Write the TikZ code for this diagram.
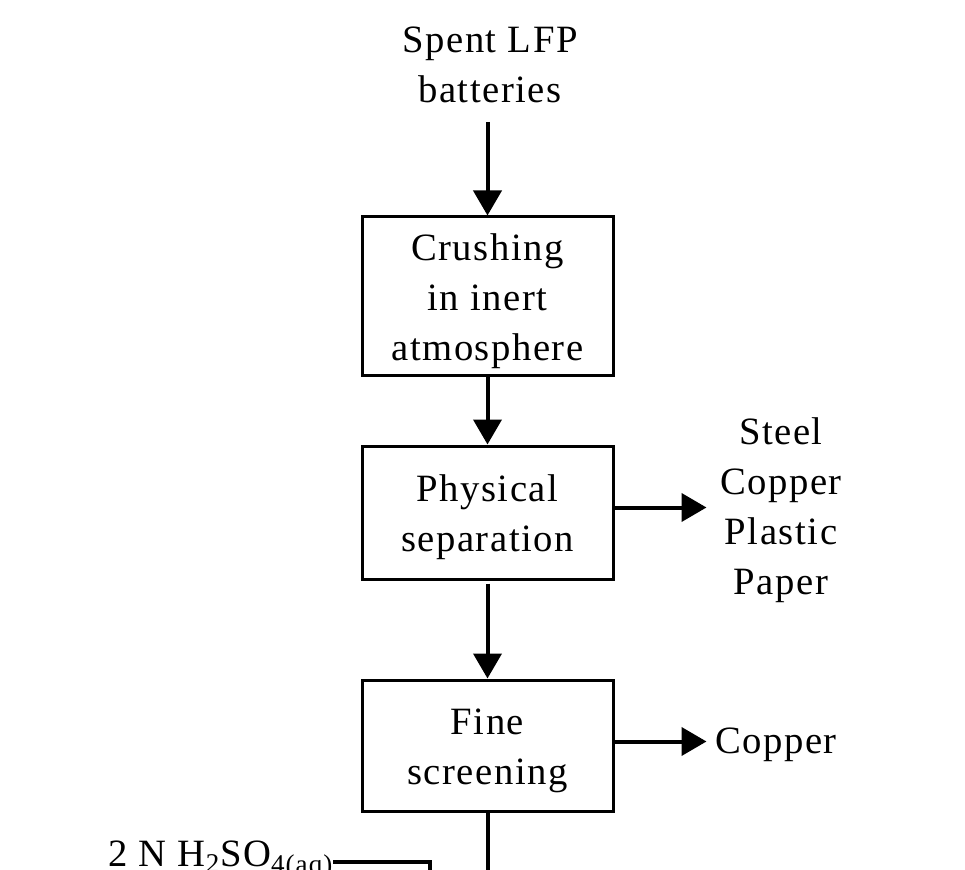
\documentclass[tikz,border=0pt]{standalone}
\usepackage{fontspec}
\setmainfont{Liberation Serif}[LetterSpace=4]
\usetikzlibrary{arrows.meta}
\newcommand{\topgap}{\rule{0pt}{27.5pt}}

\begin{document}
\begin{tikzpicture}[x=0.75pt, y=-0.75pt,
		every node/.style={font=\fontsize{29}{37.5}\selectfont, align=center},
		stepbox/.style={draw, line width=2.25pt, minimum width=188.25pt, inner sep=0pt},
		outtext/.style={inner sep=9pt},
		flow/.style={line width=3pt, -{Triangle[length=18.75pt, width=21pt]}},
		pipe/.style={line width=3pt}]
				\useasboundingbox (0,0) rectangle (965,870);

				% Feed
				\node[inner sep=0pt] (spent) at (490,65) {Spent LFP\\batteries};

				% Process steps
				\node[stepbox, minimum height=118.5pt] (crush) at (487.5,296) {\topgap Crushing\\in inert\\atmosphere};
				\node[stepbox, minimum height=99.75pt] (phys) at (487.5,512.5) {\topgap Physical\\separation};
				\node[stepbox, minimum height=98.25pt] (fine) at (487.5,745.5) {\topgap Fine\\screening};

				% Products
				\node[outtext] (metals) at (781,510) {Steel\\Copper\\Plastic\\Paper};
				\node[outtext, anchor=west] (cu) at (703,745) {Copper};

				% Acid feed
				\node[anchor=base west, inner sep=0pt] (acid) at (108,866) {2 N H\textsubscript{2}SO\textsubscript{4(aq)}};
				\coordinate (acidend) at (430,880);
				\coordinate (leachin) at (490,880);

				% Connectors
				\draw[flow] ([yshift=-14pt]spent.south -| crush.north) -- (crush.north);
				\draw[flow] (crush) -- (phys);
				\draw[flow] (phys.south) ++(0,3) -- (fine.north);
				\draw[flow] (phys.east) ++(0,-5) -- ++(92,0);
				\draw[flow] (fine.east) ++(0,-4) -- ++(92,0);
				\draw[pipe] (fine.south) -- (fine.south |- leachin);
				\draw[pipe] ([yshift=3pt]acid.base east) -| (acidend);
			\end{tikzpicture}
\end{document}
